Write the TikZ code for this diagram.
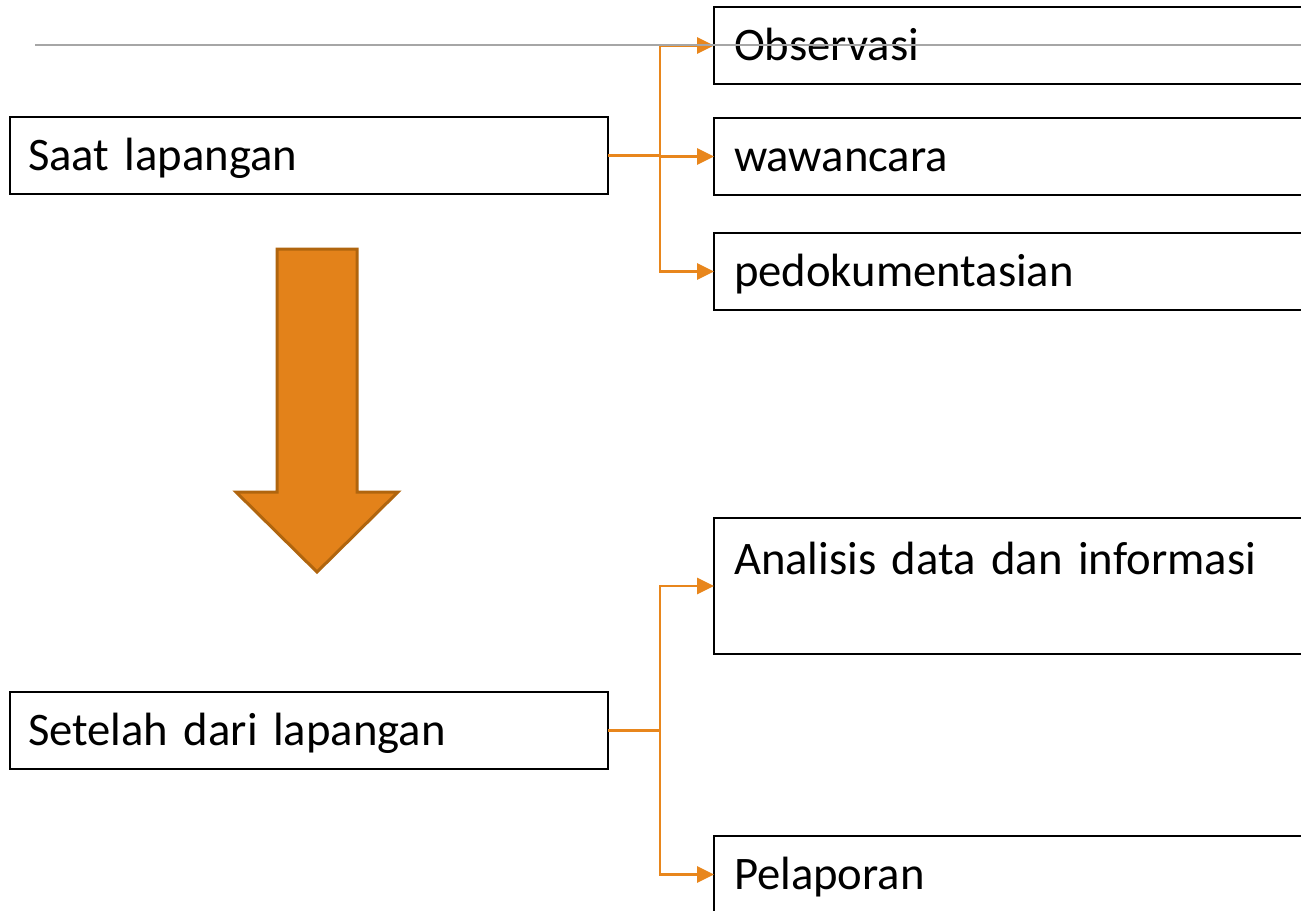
\documentclass[tikz,border=0pt]{standalone}
\usepackage{fontspec}
\setmainfont{Carlito}
\usetikzlibrary{arrows.meta}
\newcommand\pxu{*0.75pt}
\definecolor{linkorange}{HTML}{E8861C}
\definecolor{arrowfill}{HTML}{E3821A}
\definecolor{arrowedge}{HTML}{B0650E}
\definecolor{ruleline}{HTML}{A6A6A6}
\tikzset{
  box/.style={draw=black, line width=2\pxu, fill=white, anchor=north west,
    outer sep=0pt, inner xsep=18\pxu, text height=30\pxu, text depth=0pt,
    align=left, font=\fontsize{35pt}{42pt}\selectfont},
  leftbox/.style={box, minimum width=598\pxu, minimum height=77\pxu, text width=562\pxu},
  rightbox/.style={box, minimum width=600\pxu, minimum height=77\pxu, text width=564\pxu, inner xsep=20\pxu},
  conn/.style={draw=linkorange, line width=2.8\pxu},
  connarrow/.style={conn, -{Triangle[length=17\pxu, width=16\pxu]}},
}
\begin{document}
\begin{tikzpicture}[x=0.75pt, y=-0.75pt]
\clip (0,0) rectangle (1301,910);
\fill[white] (0,0) rectangle (1301,910);

% stage boxes
\node[leftbox] (saat) at (10,117) {Saat lapangan};
\node[leftbox] (setelah) at (10,692) {Setelah dari lapangan};

% activities in the field
\node[rightbox] (obs) at (714,7) {Observasi};
\node[rightbox] (waw) at (714,118) {wawancara};
\node[rightbox] (dok) at (714,233) {pedokumentasian};

% activities after the field
\node[rightbox, minimum height=136\pxu, text depth=54\pxu] (ana) at (714,518) {Analisis data dan informasi};
\node[rightbox] (lap) at (714,836) {Pelaporan};

% branch connectors
\coordinate (j1) at (660,155.5);
\coordinate (j2) at (660,730.5);
\draw[conn] (saat.east) -- (j1);
\draw[connarrow] (j1) |- (obs.west);
\draw[connarrow] (j1) |- (waw.west);
\draw[connarrow] (j1) |- (dok.west);
\draw[conn] (setelah.east) -- (j2);
\draw[connarrow] (j2) |- (ana.west);
\draw[connarrow] (j2) |- (lap.west);

% large downward block arrow
\draw[fill=arrowfill, draw=arrowedge, line width=3\pxu, line join=miter]
  (277,249) -- (357,249) -- (357,492) -- (398,492) -- (317,572)
  -- (236,492) -- (277,492) -- cycle;

% horizontal rule across the top
\draw[ruleline, line width=1.5\pxu] (35,45) -- (1301,45);
\end{tikzpicture}
\end{document}
